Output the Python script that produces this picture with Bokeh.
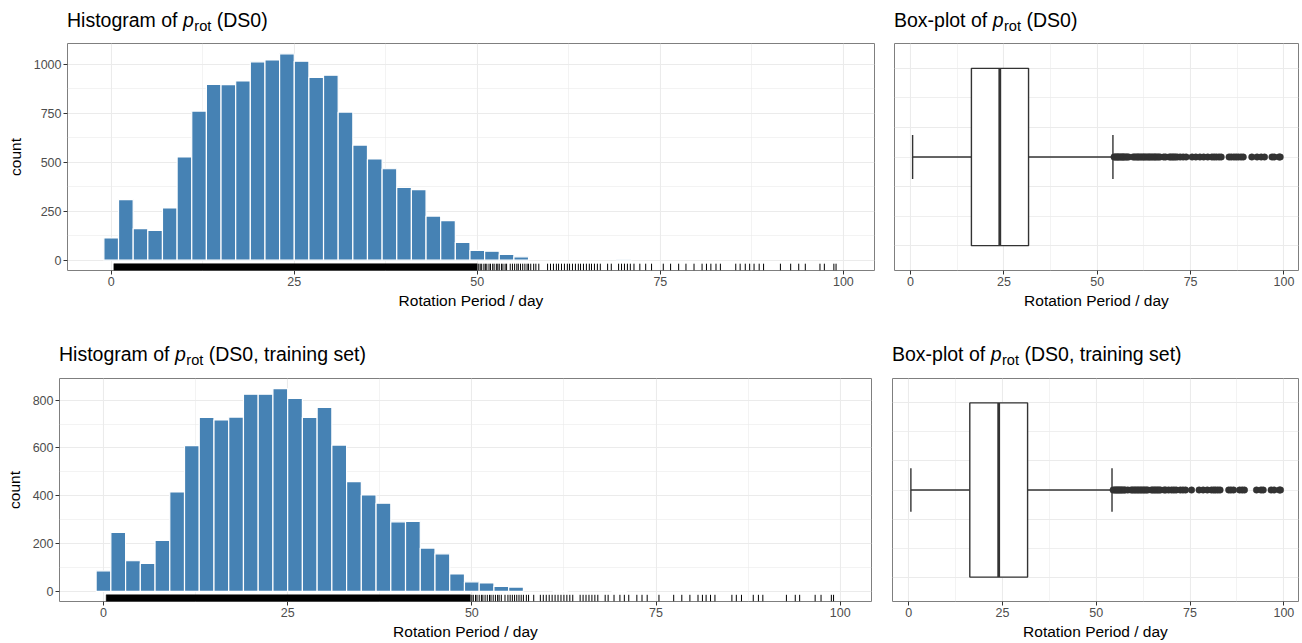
from bokeh.plotting import figure
from bokeh.models import Range1d, FixedTicker, Grid, Div
from bokeh.layouts import column, row
from bokeh.embed import file_html
from bokeh.resources import INLINE

# ---------------- data ----------------
bin_centers_all = [0, 2, 4, 6, 8, 10, 12, 14, 16, 18, 20, 22, 24, 26, 28, 30, 32, 34,
                   36, 38, 40, 42, 44, 46, 48, 50, 52, 54, 56, 70]
counts_all = [113, 309, 161, 152, 266, 526, 760, 896, 895, 914, 1011, 1021, 1052, 1014,
              932, 943, 755, 587, 516, 466, 371, 360, 225, 202, 91, 50, 46, 29, 17, 2]

bin_centers_train = [0, 2, 4, 6, 8, 10, 12, 14, 16, 18, 20, 22, 24, 26, 28, 30, 32, 34,
                     36, 38, 40, 42, 44, 46, 48, 50, 52, 54, 56, 62, 70]
counts_train = [86, 247, 128, 117, 213, 416, 610, 728, 717, 729, 825, 825, 848, 807,
                728, 769, 612, 459, 403, 369, 291, 293, 181, 157, 73, 40, 35, 21, 18, 2, 2]

bin_width = 2

# rug: span where ticks merge into a solid band, then single ticks
rug_band_all = (0.36, 50.0)
rug_mid_all = [50.2, 50.4, 50.6, 50.9, 51.1, 51.3, 51.6, 51.8, 52.1, 52.3, 52.6, 52.8,
               53.0, 53.3, 53.5, 53.8, 54.0]
outliers_all = [54.5, 54.8, 55.1, 55.4, 55.6, 55.9, 56.2, 56.5, 56.8, 57.0, 57.3, 57.7,
                58.0, 58.4, 59.6, 60.0, 60.4, 60.8, 61.1, 61.5, 61.9, 62.3, 62.6, 63.0,
                63.4, 63.8, 64.1, 64.5, 64.9, 65.3, 65.6, 66.0, 66.4, 66.8, 67.8, 68.3,
                69.3, 69.7, 70.1, 70.5, 70.9, 71.4, 72.2, 73.0, 73.8, 75.4, 76.4, 77.5,
                78.5, 79.6, 80.7, 81.3, 81.9, 82.6, 83.2, 85.3, 85.9, 86.6, 87.2, 87.8,
                88.5, 89.1, 91.4, 92.8, 93.9, 94.8, 96.8, 97.4, 98.7, 99.0]

rug_band_train = (0.37, 49.8)
rug_mid_train = [50.0, 50.2, 50.5, 50.7, 51.0, 51.3, 51.5, 51.8, 52.1, 52.4, 52.6, 52.9,
                 53.2, 53.5, 53.7, 54.0]
outliers_train = [54.5, 54.9, 55.2, 55.5, 55.8, 56.1, 56.4, 56.7, 57.0, 57.4, 57.7, 58.4,
                  59.3, 59.7, 60.1, 60.5, 60.9, 61.3, 61.7, 62.1, 62.5, 62.9, 63.3, 63.7,
                  64.7, 65.1, 65.5, 65.9, 66.3, 66.7, 67.1, 68.1, 68.5, 69.3, 70.1, 70.7,
                  71.3, 72.4, 73.1, 73.8, 75.4, 77.4, 78.5, 79.6, 80.7, 81.3, 81.8, 82.4,
                  83.0, 85.3, 85.9, 86.6, 88.2, 88.9, 89.5, 92.7, 93.9, 94.5, 96.6, 97.4,
                  98.8, 99.1]

# box statistics: lower whisker, q1, median, q3, upper whisker
box_all = [0.55, 16.3, 23.9, 31.6, 54.2]
box_train = [0.6, 16.3, 24.0, 31.7, 54.2]

x_ticks = [0, 25, 50, 75, 100]
x_minor = [-12.5, 12.5, 37.5, 62.5, 87.5]
y_ticks_all = [0, 250, 500, 750, 1000]
y_minor_all = [125, 375, 625, 875]
y_ticks_train = [0, 200, 400, 600, 800]
y_minor_train = [100, 300, 500, 700]
box_grid_major = [-0.375, -0.125, 0.125, 0.375]
box_grid_minor = [-0.25, 0, 0.25]

x_label = "Rotation Period / day"
y_label = "count"

# ---------------- style ----------------
FONT = "Liberation Sans"
GRID = "#EBEBEB"
BORDER = "#7f7f7f"
DARK = "#333333"
BAR = "#4682B4"


def style_axis(ax):
    ax.axis_line_color = None
    ax.major_tick_line_color = DARK
    ax.major_tick_out = 4
    ax.major_tick_in = 0
    ax.minor_tick_line_color = None
    ax.major_label_text_font = FONT
    ax.major_label_text_font_size = "12.5px"
    ax.major_label_text_color = "#4D4D4D"
    ax.major_label_standoff = 2
    ax.axis_label_text_font = FONT
    ax.axis_label_text_font_size = "15.5px"
    ax.axis_label_text_font_style = "normal"
    ax.axis_label_text_color = "black"
    ax.axis_label_standoff = 3


def title_div(prefix, suffix, width, height, pad_left, pad_top):
    html = (
        f'<div style="font-family:\'{FONT}\'; font-size:19.5px; line-height:22px; '
        f'color:black; white-space:nowrap; padding-left:{pad_left}px; '
        f'padding-top:{pad_top}px; margin:0;">'
        f'{prefix} <i>p</i><sub style="font-size:14.6px; vertical-align:baseline; '
        f'position:relative; top:4.2px; margin-left:0.5px;">rot</sub> {suffix}</div>'
    )
    return Div(text=html, width=width, height=height, margin=(0, 0, 0, 0))


def hist_fig(centers, counts, band, mids, outl, yticks, yminor, yr, width, height,
             mb_left, mb_top, mb_bottom):
    p = figure(width=width, height=height, x_range=Range1d(-5.97, 104.25),
               y_range=Range1d(*yr), output_backend="svg", toolbar_location=None,
               min_border_left=mb_left, min_border_right=10, min_border_top=mb_top,
               min_border_bottom=mb_bottom, outline_line_color=BORDER,
               outline_line_width=1, background_fill_color="white",
               border_fill_color="white")
    p.xaxis.ticker = FixedTicker(ticks=x_ticks, minor_ticks=x_minor)
    p.yaxis.ticker = FixedTicker(ticks=yticks, minor_ticks=yminor)
    for g in (p.xgrid, p.ygrid):
        g.grid_line_color = GRID
        g.grid_line_width = 1.1
        g.minor_grid_line_color = GRID
        g.minor_grid_line_width = 0.6
    style_axis(p.xaxis)
    style_axis(p.yaxis)
    p.yaxis.axis_label_standoff = 7
    p.xaxis.axis_label = x_label
    p.yaxis.axis_label = y_label

    p.vbar(x=centers, top=counts, bottom=0, width=bin_width, fill_color=BAR,
           line_color="white", line_width=1.2)

    y0 = yr[0]
    y1 = yr[0] + 0.03 * (yr[1] - yr[0])
    p.quad(left=[band[0]], right=[band[1]], bottom=[y0], top=[y1], fill_color="black",
           line_color="black", line_width=0.5)
    ticks = mids + outl
    p.segment(x0=ticks, y0=[y0] * len(ticks), x1=ticks, y1=[y1] * len(ticks),
              line_color="black", line_width=1)
    return p


def box_fig(stats, outl, width, height, mb_left, mb_top, mb_bottom):
    p = figure(width=width, height=height, x_range=Range1d(-4.3, 103.9),
               y_range=Range1d(-0.48, 0.48), output_backend="svg", toolbar_location=None,
               y_axis_location=None, min_border_left=mb_left, min_border_right=2,
               min_border_top=mb_top, min_border_bottom=mb_bottom,
               outline_line_color=BORDER, outline_line_width=1,
               background_fill_color="white", border_fill_color="white")
    p.xaxis.ticker = FixedTicker(ticks=x_ticks, minor_ticks=x_minor)
    p.xgrid.grid_line_color = GRID
    p.xgrid.grid_line_width = 1.1
    p.xgrid.minor_grid_line_color = GRID
    p.xgrid.minor_grid_line_width = 0.6
    # remove any default horizontal grid, then add one on the box positions
    for r in list(p.center):
        if isinstance(r, Grid) and r.dimension == 1:
            p.center.remove(r)
    yg = Grid(dimension=1, ticker=FixedTicker(ticks=box_grid_major,
                                              minor_ticks=box_grid_minor),
              grid_line_color=GRID, grid_line_width=1.1,
              minor_grid_line_color=GRID, minor_grid_line_width=0.8)
    p.add_layout(yg)
    style_axis(p.xaxis)
    p.xaxis.axis_label = x_label

    lo, q1, med, q3, hi = stats
    half = 0.375
    cap = 0.0934
    p.segment(x0=[lo, q3], y0=[0, 0], x1=[q1, hi], y1=[0, 0], line_color=DARK,
              line_width=1.4)
    p.segment(x0=[lo, hi], y0=[-cap, -cap], x1=[lo, hi], y1=[cap, cap],
              line_color=DARK, line_width=1.4)
    p.quad(left=[q1], right=[q3], bottom=[-half], top=[half], fill_color="white",
           line_color=DARK, line_width=1.4)
    p.segment(x0=[med], y0=[-half], x1=[med], y1=[half], line_color=DARK, line_width=2.8)
    p.scatter(x=outl, y=[0] * len(outl), size=6.5, fill_color=DARK, line_color=DARK,
              line_width=0.5)
    return p


# top row: titles 0-34, figures 34-318 (frame 43-270)
tA = title_div("Histogram of", "(DS0)", 884, 34, 67, 8.7)
tB = title_div("Box-plot of", "(DS0)", 416, 34, 10, 8.7)
pA = hist_fig(bin_centers_all, counts_all, rug_band_all, rug_mid_all, outliers_all,
              y_ticks_all, y_minor_all, (-52.6, 1104.6), 884, 284, 67, 9, 48)
pB = box_fig(box_all, outliers_all, 416, 284, 10, 9, 48)

# bottom row: titles 318-369, figures 369-642 (frame 378-603)
tC = title_div("Histogram of", "(DS0, training set)", 881, 51, 59, 25.2)
tD = title_div("Box-plot of", "(DS0, training set)", 419, 51, 11, 25.2)
pC = hist_fig(bin_centers_train, counts_train, rug_band_train, rug_mid_train,
              outliers_train, y_ticks_train, y_minor_train, (-42.4, 890.4), 881, 273,
              59, 9, 39)
pD = box_fig(box_train, outliers_train, 419, 273, 11, 9, 39)

layout = column(row(tA, tB, spacing=0), row(pA, pB, spacing=0),
                row(tC, tD, spacing=0), row(pC, pD, spacing=0), spacing=0)

open("out.html", "w").write(file_html(layout, INLINE))
